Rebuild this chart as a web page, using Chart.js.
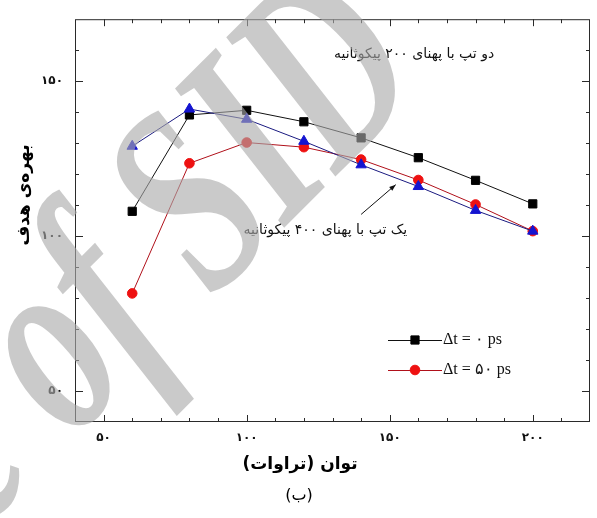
<!DOCTYPE html>
<html>
<head>
<meta charset="utf-8">
<script src="https://cdn.jsdelivr.net/npm/chart.js@4.4.1/dist/chart.umd.min.js"></script>
<style>
  html, body { margin: 0; padding: 0; background: #ffffff; }
  #wrap { width: 597px; height: 518px; position: relative; }
</style>
</head>
<body>
<div id="wrap"><canvas id="c" width="597" height="518"></canvas></div>
<script>
// Power (TW) on the x axis
const powerTW = [60, 80, 100, 120, 140, 160, 180, 200];
// Target gain, two pulses of 200 ps, delay 0 ps
const gainDelay0 = [108, 139.1, 140.6, 136.9, 131.7, 125.3, 118, 110.4];
// Target gain, two pulses of 200 ps, delay 50 ps
const gainDelay50 = [81.5, 123.5, 130.2, 128.7, 124.7, 118.1, 110.2, 101.6];
// Target gain, single pulse of 400 ps
const gainSingle = [129, 141, 137.7, 130.6, 123, 116, 108.3, 101.6];

// Axis ranges and tick labels (Persian digits)
const xRange = [40, 220];
const yRange = [40, 170];
const xTickValues = [50, 100, 150, 200];
const xTickLabels = ['۵۰', '۱۰۰', '۱۵۰', '۲۰۰'];
const yTickValues = [50, 100, 150];
const yTickLabels = ['۵۰', '۱۰۰', '۱۵۰'];
const minorStep = 10;

const seriesLabels = ['Δt = ۰ ps', 'Δt = ۵۰ ps', 'یک تپ'];
const xTitle = 'توان (تراوات)';
const yTitle = 'بهره‌ی هدف';
const caption = '(ب)';
const noteTwoPulse = 'دو تپ با پهنای ۲۰۰ پیکوثانیه';
const noteOnePulse = 'یک تپ با پهنای ۴۰۰ پیکوثانیه';
// Note anchors in data units: [x, y]
const noteTwoPulseAt = [158.5, 158.5];
const noteOnePulseAt = [127.5, 102];
const arrowFrom = [140, 107];
const arrowTo = [152.1, 116.6];

const toPoints = (ys) => powerTW.map((x, i) => ({ x: x, y: ys[i] }));

const persianFont = '"DejaVu Sans", sans-serif';

// Frame and inward major/minor ticks on all four sides
const framePlugin = {
  id: 'frameTicks',
  beforeDatasetsDraw(chart) {
    const { ctx, chartArea: a, scales: { x, y } } = chart;
    ctx.save();
    ctx.strokeStyle = '#2a2a2a';
    ctx.lineWidth = 1;
    ctx.strokeRect(a.left + 0.5, a.top + 0.5, a.right - a.left - 1, a.bottom - a.top - 1);
    ctx.beginPath();
    for (let v = xRange[0] + minorStep; v < xRange[1]; v += minorStep) {
      const px = Math.round(x.getPixelForValue(v)) + 0.5;
      const len = v % 50 === 0 ? 7 : 4;
      ctx.moveTo(px, a.bottom); ctx.lineTo(px, a.bottom - len);
      ctx.moveTo(px, a.top); ctx.lineTo(px, a.top + len);
    }
    for (let v = yRange[0] + minorStep; v < yRange[1]; v += minorStep) {
      const py = Math.round(y.getPixelForValue(v)) + 0.5;
      const len = v % 50 === 0 ? 8 : 4;
      ctx.moveTo(a.left, py); ctx.lineTo(a.left + len, py);
      ctx.moveTo(a.right, py); ctx.lineTo(a.right - len, py);
    }
    ctx.stroke();
    ctx.restore();
  }
};

// Notes, arrow, legend and axis titles
const notesPlugin = {
  id: 'notes',
  afterDatasetsDraw(chart) {
    const { ctx, chartArea: a, scales: { x, y } } = chart;
    ctx.save();
    ctx.fillStyle = '#111';
    ctx.font = '14px ' + persianFont;
    ctx.textAlign = 'center';
    ctx.textBaseline = 'middle';
    ctx.direction = 'rtl';
    ctx.fillText(noteTwoPulse, x.getPixelForValue(noteTwoPulseAt[0]), y.getPixelForValue(noteTwoPulseAt[1]));
    ctx.fillText(noteOnePulse, x.getPixelForValue(noteOnePulseAt[0]), y.getPixelForValue(noteOnePulseAt[1]));

    // arrow
    const x1 = x.getPixelForValue(arrowFrom[0]), y1 = y.getPixelForValue(arrowFrom[1]);
    const x2 = x.getPixelForValue(arrowTo[0]), y2 = y.getPixelForValue(arrowTo[1]);
    ctx.strokeStyle = '#111';
    ctx.lineWidth = 1;
    ctx.beginPath(); ctx.moveTo(x1, y1); ctx.lineTo(x2, y2); ctx.stroke();
    const ang = Math.atan2(y2 - y1, x2 - x1);
    ctx.beginPath();
    ctx.moveTo(x2, y2);
    ctx.lineTo(x2 - 7 * Math.cos(ang - 0.35), y2 - 7 * Math.sin(ang - 0.35));
    ctx.lineTo(x2 - 7 * Math.cos(ang + 0.35), y2 - 7 * Math.sin(ang + 0.35));
    ctx.closePath(); ctx.fill();

    // legend for the two delayed-pulse series
    ctx.direction = 'ltr';
    const lx = 388, lw = 54;
    [0, 1].forEach((di, row) => {
      const ds = chart.data.datasets[di];
      const ly = 340 + row * 30;
      ctx.strokeStyle = ds.borderColor;
      ctx.lineWidth = 1;
      ctx.beginPath(); ctx.moveTo(lx, ly + 0.5); ctx.lineTo(lx + lw, ly + 0.5); ctx.stroke();
      ctx.fillStyle = ds.pointBackgroundColor;
      ctx.strokeStyle = ds.pointBorderColor;
      Chart.helpers.drawPoint(ctx, {
        pointStyle: ds.pointStyle, radius: ds.pointRadius, rotation: 0, borderWidth: 1
      }, lx + lw / 2, ly);
      ctx.fillStyle = '#111';
      ctx.font = '16px "Liberation Serif", "DejaVu Serif", serif';
      ctx.textAlign = 'left';
      ctx.fillText(ds.label, lx + lw + 1, ly);
    });

    // axis titles and caption
    ctx.fillStyle = '#000';
    ctx.textAlign = 'center';
    ctx.direction = 'rtl';
    ctx.font = 'bold 17px ' + persianFont;
    ctx.fillText(xTitle, 300, 465);
    ctx.font = '16px ' + persianFont;
    ctx.fillText(caption, 299, 496);
    ctx.save();
    ctx.translate(25, 195);
    ctx.rotate(-Math.PI / 2);
    ctx.font = 'bold 17px ' + persianFont;
    ctx.fillText(yTitle, 0, 0);
    ctx.restore();
    ctx.restore();
  }
};

// Site watermark across the figure
const watermarkPlugin = {
  id: 'watermark',
  afterDraw(chart) {
    const { ctx } = chart;
    ctx.save();
    ctx.translate(71, 441);
    ctx.rotate(-45 * Math.PI / 180);
    ctx.scale(1, 1.45);
    ctx.font = 'italic bold 185px "Liberation Serif", serif';
    ctx.fillStyle = 'rgba(170,170,170,0.62)';
    ctx.textAlign = 'left';
    ctx.textBaseline = 'alphabetic';
    ctx.fillText('of SID', 0, 0);
    ctx.textAlign = 'right';
    ctx.fillText('Archive ', 0, 0);
    ctx.restore();
  }
};

new Chart(document.getElementById('c'), {
  type: 'scatter',
  data: {
    datasets: [
      {
        label: seriesLabels[0],
        data: toPoints(gainDelay0),
        showLine: true,
        borderColor: '#111111',
        borderWidth: 1,
        pointStyle: 'rect',
        pointRadius: 5.8,
        pointBackgroundColor: '#000000',
        pointBorderColor: '#000000',
        pointBorderWidth: 1,
        order: 3
      },
      {
        label: seriesLabels[1],
        data: toPoints(gainDelay50),
        showLine: true,
        borderColor: '#b0101a',
        borderWidth: 1,
        pointStyle: 'circle',
        pointRadius: 4.8,
        pointBackgroundColor: '#ee1111',
        pointBorderColor: '#ee1111',
        pointBorderWidth: 1,
        order: 2
      },
      {
        label: seriesLabels[2],
        data: toPoints(gainSingle),
        showLine: true,
        borderColor: '#1a1a80',
        borderWidth: 1,
        pointStyle: 'triangle',
        pointRadius: 6,
        pointBackgroundColor: '#1414d0',
        pointBorderColor: '#1414d0',
        pointBorderWidth: 1,
        order: 1
      }
    ]
  },
  options: {
    responsive: false,
    animation: false,
    events: [],
    layout: { padding: { top: 13, right: 3, left: 0, bottom: 0 } },
    plugins: { legend: { display: false }, tooltip: { enabled: false }, title: { display: false } },
    scales: {
      x: {
        type: 'linear',
        min: xRange[0], max: xRange[1],
        grid: { display: false, drawTicks: false },
        border: { display: false },
        afterBuildTicks: (s) => { s.ticks = xTickValues.map(v => ({ value: v })); },
        afterFit: (s) => { s.height = 96; },
        ticks: {
          padding: 9,
          color: '#111',
          font: { family: 'DejaVu Sans', size: 12, weight: 'bold' },
          maxRotation: 0,
          callback: (v) => xTickLabels[xTickValues.indexOf(v)]
        }
      },
      y: {
        type: 'linear',
        min: yRange[0], max: yRange[1],
        grid: { display: false, drawTicks: false },
        border: { display: false },
        afterBuildTicks: (s) => { s.ticks = yTickValues.map(v => ({ value: v })); },
        afterFit: (s) => { s.width = 75; },
        ticks: {
          padding: 12,
          color: '#111',
          font: { family: 'DejaVu Sans', size: 12, weight: 'bold' },
          callback: (v) => yTickLabels[yTickValues.indexOf(v)]
        }
      }
    }
  },
  plugins: [framePlugin, notesPlugin, watermarkPlugin]
});
</script>
</body>
</html>
